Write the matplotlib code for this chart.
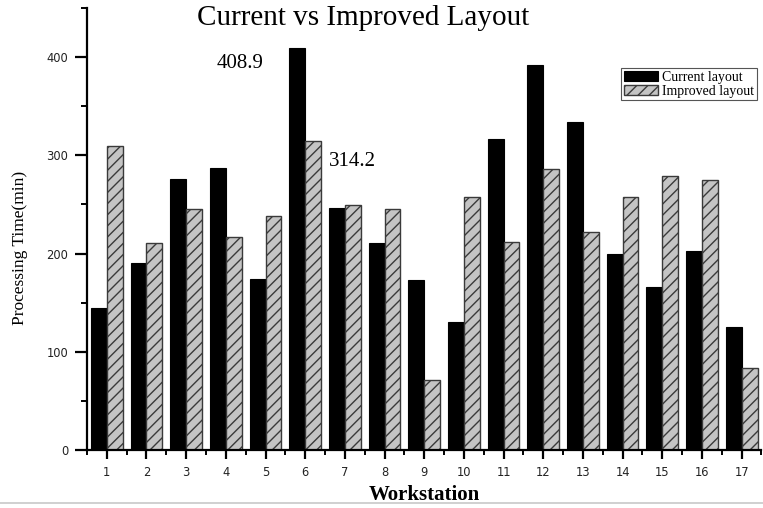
"""Current vs improved layout: processing time per workstation."""
import numpy as np
import matplotlib
matplotlib.use('Agg')
import matplotlib.pyplot as plt
from matplotlib.lines import Line2D
from matplotlib.ticker import MultipleLocator

stations = list(range(1, 18))
current  = [144.8, 190.0, 275.5, 287.4, 173.7, 408.9, 246.6, 211.0, 172.7,
            129.9, 316.2, 391.9, 333.8, 199.8, 165.6, 202.2, 125.5]
improved = [309.8, 211.0, 245.0, 216.8, 237.8, 314.2, 249.4, 245.0, 71.2,
            257.8, 211.7, 286.0, 221.5, 257.8, 279.2, 275.2, 83.8]

serif = 'Liberation Serif'
sans = 'DejaVu Sans'

fig = plt.figure(figsize=(7.63, 5.08), dpi=100)
ax = fig.add_axes([0.114, 0.1142, 0.884, 0.870])

x = np.array(stations)
w = 0.4
ax.bar(x - w/2, current, w, color='black', edgecolor='black', lw=0.8,
       label='Current layout')
ax.bar(x + w/2, improved, w, color='#c4c4c4', edgecolor='#3a3a3a', lw=1.0,
       hatch='///', label='Improved layout')

ax.set_xlim(0.5, 17.5)
ax.set_ylim(0, 450)

for s in ['top', 'right']:
    ax.spines[s].set_visible(False)
for s in ['left', 'bottom']:
    ax.spines[s].set_linewidth(1.6)

ax.set_xticks(stations)
ax.set_xticklabels([str(s) for s in stations])
ax.xaxis.set_minor_locator(MultipleLocator(0.5))
ax.set_yticks([0, 100, 200, 300, 400])
ax.yaxis.set_minor_locator(MultipleLocator(50))
ax.tick_params(axis='y', which='major', length=9, width=1.6, pad=4.5)
ax.tick_params(axis='y', which='minor', length=4.5, width=1.4)
ax.tick_params(axis='x', which='major', length=6.5, width=1.6, pad=5)
ax.tick_params(axis='x', which='minor', length=3.5, width=1.4)
for lab in ax.get_xticklabels() + ax.get_yticklabels():
    lab.set_fontfamily(sans)
    lab.set_fontsize(8.3)
    lab.set_color('#222222')

ax.set_ylabel('Processing Time(min)', family=serif, fontsize=12.5, va='center')
ax.yaxis.set_label_coords(-0.10, 0.457)
ax.set_xlabel('Workstation', family=serif, fontsize=15, fontweight='bold',
              va='center')
ax.xaxis.set_label_coords(0.5, -0.102)

fig.text(0.476, 0.965, 'Current vs Improved Layout', family=serif,
         fontsize=21, ha='center', va='center')

# value labels for workstation 6
ax.annotate(f'{current[5]:.1f}', xy=(6 - w/2, current[5]), xytext=(-57, -15),
            textcoords='offset pixels', ha='center', va='center',
            family=serif, fontsize=15)
ax.annotate(f'{improved[5]:.1f}', xy=(6 + w/2, improved[5]), xytext=(39, -20),
            textcoords='offset pixels', ha='center', va='center',
            family=serif, fontsize=15)

leg = ax.legend(loc='upper right', bbox_to_anchor=(0.992, 0.866),
                bbox_transform=fig.transFigure, fancybox=False,
                edgecolor='#555555', framealpha=1, borderpad=0.2,
                labelspacing=0.05, handlelength=2.45, handleheight=0.75,
                handletextpad=0.3, borderaxespad=0,
                prop={'family': serif, 'size': 10})
leg.get_frame().set_linewidth(0.8)

fig.add_artist(Line2D([0, 1], [0.009, 0.009], color='#c8c8c8', lw=1.2,
                      transform=fig.transFigure))

fig.savefig('out.png', dpi=100)
